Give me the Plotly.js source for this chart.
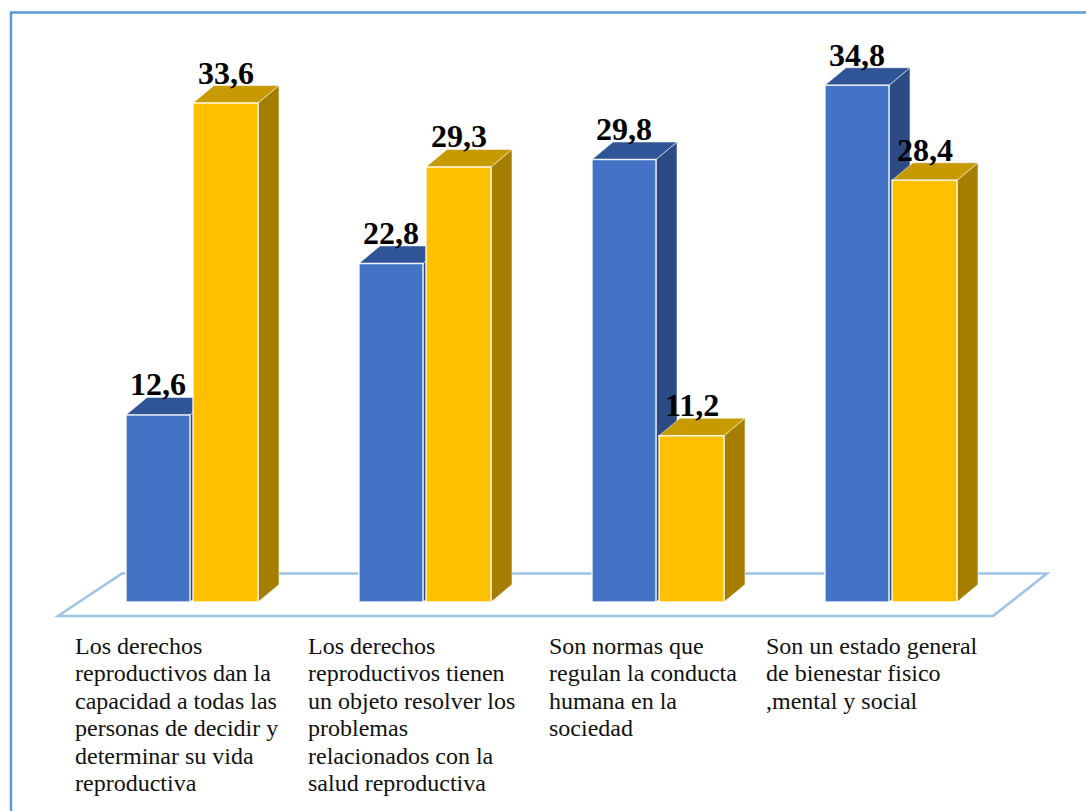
<!DOCTYPE html>
<html>
<head>
<meta charset="utf-8">
<script src="https://cdn.plot.ly/plotly-3.0.1.min.js"></script>
<style>
  html, body { margin: 0; padding: 0; background: #ffffff; }
  #chart { width: 1086px; height: 811px; }
</style>
</head>
<body>
<div id="chart"></div>
<script>
// ---- data ----
const categories = [
  "Los derechos<br>reproductivos dan la<br>capacidad a todas las<br>personas de decidir y<br>determinar su vida<br>reproductiva",
  "Los derechos<br>reproductivos tienen<br>un objeto resolver los<br>problemas<br>relacionados con la<br>salud reproductiva",
  "Son normas que<br>regulan la conducta<br>humana en la<br>sociedad",
  "Son un estado general<br>de bienestar fisico<br>,mental y social"
];
const seriesBlue = [12.6, 22.8, 29.8, 34.8];
const seriesYellow = [33.6, 29.3, 11.2, 28.4];
const labelsBlue = ["12,6", "22,8", "29,8", "34,8"];
const labelsYellow = ["33,6", "29,3", "11,2", "28,4"];

// ---- layout / style constants ----
const W = 1086, H = 811;
const xPx = 233;          // px per category unit
const yPx = 14.85;        // px per value unit
const x0px = 192, y0px = 602;
const xRange = [-x0px / xPx, (W - x0px) / xPx];
const yRange = [-(H - y0px) / yPx, y0px / yPx];
const dX = 21 / xPx, dY = 17.5 / yPx;   // 3D depth
const blueOff = -0.2833, blueW = 0.2747;
const yelOff = 0.0043, yelW = 0.279;
const labelShift = [-119, -119, -111, -127];

const colors = {
  blueFront: "#4472C4", blueTop: "#2F5597", blueSide: "#2C4A84",
  yelFront: "#FFC000", yelTop: "#C69A00", yelSide: "#A57E00"
};

const xs = categories.map((c, i) => i);

const traces = [
  { type: "bar", x: xs, y: seriesBlue, offset: blueOff, width: blueW,
    marker: { color: colors.blueFront, line: { color: "rgba(255,255,255,0.85)", width: 1.5 } },
    hoverinfo: "skip", showlegend: false },
  { type: "bar", x: xs, y: seriesYellow, offset: yelOff, width: yelW,
    marker: { color: colors.yelFront, line: { color: "rgba(255,255,255,0.85)", width: 1.5 } },
    hoverinfo: "skip", showlegend: false }
];

function faces(i, v, off, w, topCol, sideCol) {
  const L = i + off, R = i + off + w;
  const edge = { color: "rgba(255,255,255,0.55)", width: 1 };
  return [
    { type: "path", xref: "x", yref: "y", layer: "below",
      path: `M ${R},0 L ${R + dX},${dY} L ${R + dX},${v + dY} L ${R},${v} Z`,
      fillcolor: sideCol, line: edge },
    { type: "path", xref: "x", yref: "y", layer: "below",
      path: `M ${L},${v} L ${L + dX},${v + dY} L ${R + dX},${v + dY} L ${R},${v} Z`,
      fillcolor: topCol, line: edge }
  ];
}

const shapes = [];
// floor outline
shapes.push({ type: "path", xref: "x", yref: "y", layer: "below",
  path: `M ${-134 / xPx},${-14 / yPx} L ${-70 / xPx},${28.5 / yPx} L ${855 / xPx},${28.5 / yPx} L ${801 / xPx},${-14 / yPx} Z`,
  fillcolor: "rgba(0,0,0,0)", line: { color: "#9DC3E6", width: 2.5 } });
seriesBlue.forEach((v, i) => shapes.push(...faces(i, v, blueOff, blueW, colors.blueTop, colors.blueSide)));
seriesYellow.forEach((v, i) => shapes.push(...faces(i, v, yelOff, yelW, colors.yelTop, colors.yelSide)));
// outer frame
shapes.push({ type: "rect", xref: "paper", yref: "paper",
  x0: 11 / W, x1: 1.02, y0: -0.02, y1: 1 - 12.5 / H,
  line: { color: "#5B9BD5", width: 2.5 }, fillcolor: "rgba(0,0,0,0)" });

const annotations = [];
const valFont = { family: "Liberation Serif", size: 32, color: "#000000", weight: "bold" };
seriesBlue.forEach((v, i) => annotations.push({
  x: i + blueOff + blueW / 2, y: v + dY, xref: "x", yref: "y",
  text: labelsBlue[i], showarrow: false, xanchor: "center", yanchor: "bottom",
  yshift: -7, font: valFont }));
seriesYellow.forEach((v, i) => annotations.push({
  x: i + yelOff + yelW / 2, y: v + dY, xref: "x", yref: "y",
  text: labelsYellow[i], showarrow: false, xanchor: "center", yanchor: "bottom",
  yshift: -7, font: valFont }));

const catFont = { family: "Liberation Serif", size: 24, color: "#111111" };
categories.forEach((c, i) => {
  c.split("<br>").forEach((line, k) => {
    annotations.push({
      x: i, xref: "x", xshift: labelShift[i], xanchor: "left",
      y: 1 - (646 + 27.4 * k) / H, yref: "paper", yanchor: "middle",
      text: line, showarrow: false, font: catFont
    });
  });
});

const layout = {
  width: W, height: H,
  font: { family: "Liberation Serif" },
  margin: { l: 0, r: 0, t: 0, b: 0, pad: 0 },
  paper_bgcolor: "#ffffff", plot_bgcolor: "rgba(0,0,0,0)",
  showlegend: false,
  barmode: "overlay",
  hovermode: false,
  xaxis: { range: xRange, showgrid: false, zeroline: false, showticklabels: false, showline: false, fixedrange: true },
  yaxis: { range: yRange, showgrid: false, zeroline: false, showticklabels: false, showline: false, fixedrange: true },
  shapes: shapes,
  annotations: annotations
};

Plotly.newPlot("chart", traces, layout, { displayModeBar: false, staticPlot: true });
</script>
</body>
</html>
